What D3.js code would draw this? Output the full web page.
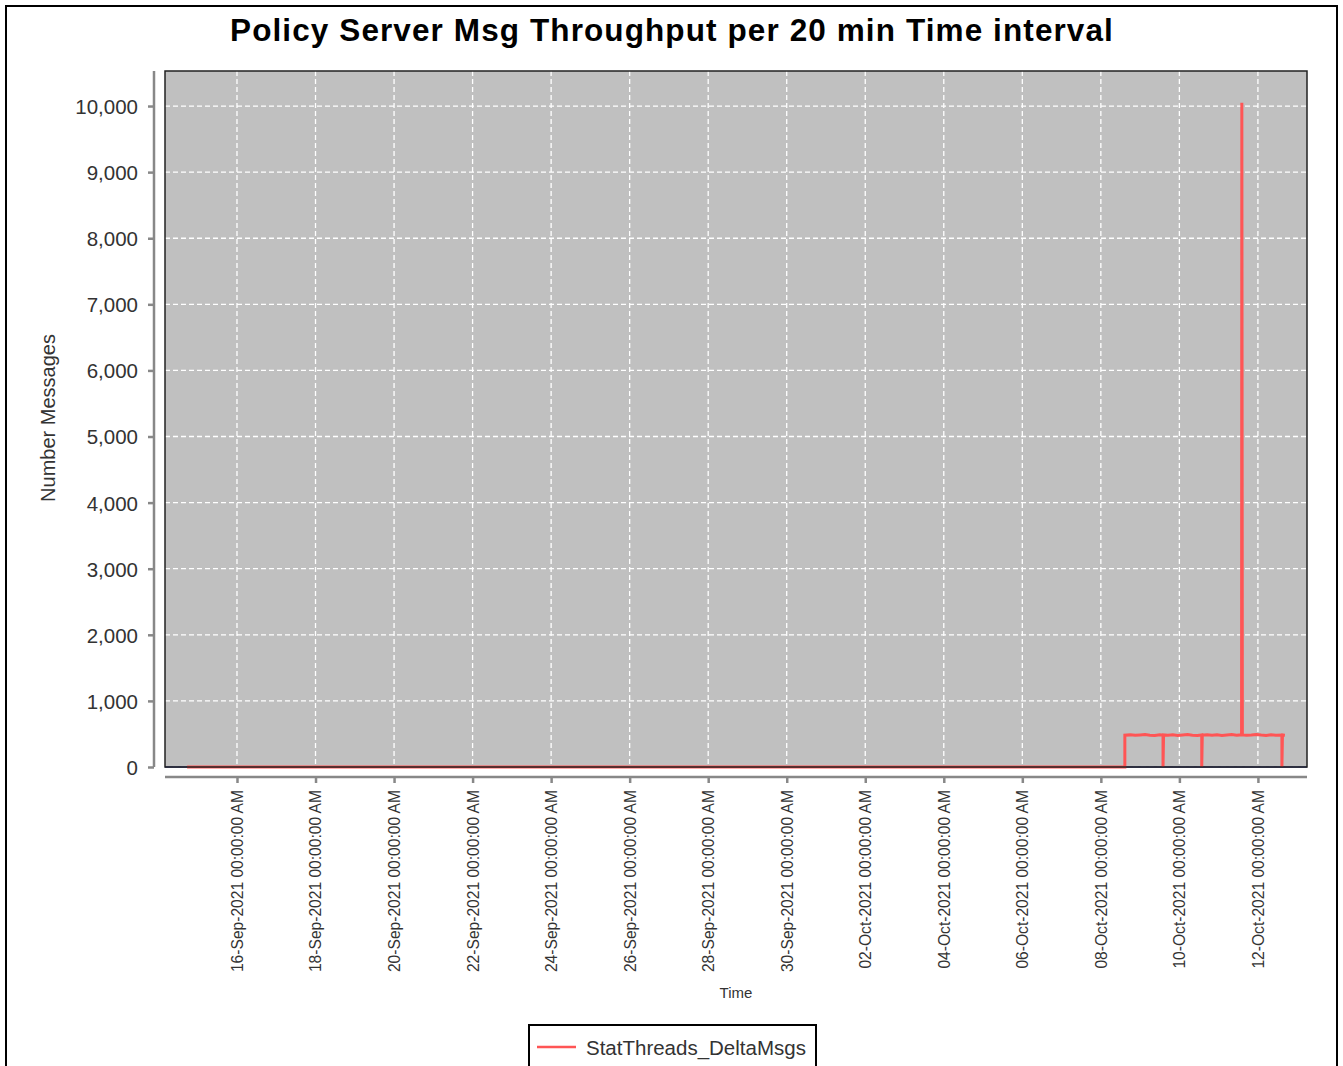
<!DOCTYPE html>
<html><head><meta charset="utf-8">
<script src="https://cdn.jsdelivr.net/npm/d3@7"></script>
<style>body{margin:0;background:#fff}svg{display:block;font-family:"Liberation Sans",Arial,sans-serif}</style>
</head><body>
<script>
// ---- data ----
const seriesName = "StatThreads_DeltaMsgs";
const xTickLabels = ["16-Sep-2021","18-Sep-2021","20-Sep-2021","22-Sep-2021","24-Sep-2021","26-Sep-2021","28-Sep-2021","30-Sep-2021","02-Oct-2021","04-Oct-2021","06-Oct-2021","08-Oct-2021","10-Oct-2021","12-Oct-2021"];
const yTicks = [0,1000,2000,3000,4000,5000,6000,7000,8000,9000,10000];
const times = [
 "2021-09-14T17:30","2021-10-08T14:40","2021-10-08T14:40",
 "2021-10-08T18:00","2021-10-08T21:00","2021-10-09T00:00","2021-10-09T03:00","2021-10-09T06:00","2021-10-09T09:00","2021-10-09T12:00","2021-10-09T14:00",
 "2021-10-09T14:00","2021-10-09T14:20",
 "2021-10-09T17:00","2021-10-09T20:00","2021-10-09T23:00","2021-10-10T02:00","2021-10-10T05:00","2021-10-10T08:00","2021-10-10T11:00","2021-10-10T13:40",
 "2021-10-10T13:40","2021-10-10T14:00",
 "2021-10-10T17:00","2021-10-10T20:00","2021-10-10T23:00","2021-10-11T02:00","2021-10-11T05:00","2021-10-11T08:00","2021-10-11T11:00","2021-10-11T14:00",
 "2021-10-11T14:10","2021-10-11T14:30",
 "2021-10-11T17:00","2021-10-11T20:00","2021-10-11T23:00","2021-10-12T02:00","2021-10-12T05:00","2021-10-12T08:00","2021-10-12T11:00","2021-10-12T14:40",
 "2021-10-12T14:40","2021-10-12T15:00","2021-10-12T16:30"
];
const deltaMsgs = [
 0,0,482,
 486,479,484,490,481,477,488,483,
 0,485,
 480,487,478,484,491,482,476,485,
 0,483,
 489,481,486,478,484,490,482,487,
 10050,486,
 479,484,491,483,477,486,482,485,
 0,484,481
];
const baselineTimes = ["2021-09-14T04:00","2021-10-13T06:00"];
const baselineValues = [0,0];

// ---- chart ----
const W=1343,H=1066;
const svg=d3.select("body").append("svg").attr("width",W).attr("height",H);
const parse=d3.timeParse("%Y-%m-%dT%H:%M");
const pl=165,pr=1307,pt=71,pb=767;

svg.append("rect").attr("x",6).attr("y",6).attr("width",1331).attr("height",1070)
  .attr("fill","#fff").attr("stroke","#000").attr("stroke-width",2);

svg.append("text").attr("x",672).attr("y",41).attr("text-anchor","middle")
  .attr("font-size",31.5).attr("font-weight","bold").attr("fill","#000")
  .attr("letter-spacing","1.1").text("Policy Server Msg Throughput per 20 min Time interval");

const x=d3.scaleTime().domain([parse("2021-09-14T04:00"),parse("2021-10-13T06:00")]).range([pl,pr]);
const y=d3.scaleLinear().domain([0,10530]).range([pb,pt]);

svg.append("rect").attr("x",pl).attr("y",pt).attr("width",pr-pl).attr("height",pb-pt).attr("fill","#c0c0c0");

const xTickDates=xTickLabels.map(s=>d3.timeParse("%d-%b-%Y")(s));

// grid
const g=svg.append("g");
g.selectAll(".gy").data(yTicks).join("line").attr("x1",pl).attr("x2",pr)
  .attr("y1",d=>y(d)).attr("y2",d=>y(d)).attr("stroke","#fff").attr("stroke-width",1.3).attr("stroke-dasharray","5,3");
g.selectAll(".gx").data(xTickDates).join("line").attr("y1",pt).attr("y2",pb)
  .attr("x1",d=>x(d)).attr("x2",d=>x(d)).attr("stroke","#fff").attr("stroke-width",1.3).attr("stroke-dasharray","5,3");

// lines
const base=baselineTimes.map((t,i)=>[parse(t),baselineValues[i]]);
const data=times.map((t,i)=>[parse(t),deltaMsgs[i]]);
const line=d3.line().x(d=>x(d[0])).y(d=>y(d[1]));
svg.append("path").attr("d",line(base)).attr("fill","none").attr("stroke","#1f2a80").attr("stroke-width",1.5);
svg.append("path").attr("d",line(data)).attr("fill","none").attr("stroke","#ff5555").attr("stroke-width",3);

svg.append("rect").attr("x",pl).attr("y",pt).attr("width",pr-pl).attr("height",pb-pt).attr("fill","none").attr("stroke","#222").attr("stroke-width",1.5);

// y axis
const ya=svg.append("g").attr("transform","translate(154,0)")
  .call(d3.axisLeft(y).tickValues(yTicks).tickFormat(d3.format(",")).tickSizeOuter(0).tickSize(6).tickPadding(10));
ya.select(".domain").remove();
ya.append("line").attr("x1",0).attr("x2",0).attr("y1",pt).attr("y2",pb).attr("stroke","#888").attr("stroke-width",2.5);
ya.selectAll(".tick line").attr("stroke","#888").attr("stroke-width",2.5);
ya.selectAll(".tick text").attr("font-size",20.5).attr("fill","#333").attr("font-family","Liberation Sans, Arial, sans-serif").attr("dy","0.36em");

svg.append("text").attr("transform","translate(55,418) rotate(-90)").attr("text-anchor","middle")
  .attr("font-size",20).attr("fill","#333").text("Number Messages");

// x axis
const xa=svg.append("g").attr("transform","translate(0,777)")
  .call(d3.axisBottom(x).tickValues(xTickDates).tickFormat((d,i)=>xTickLabels[i]+" 00:00:00 AM").tickSizeOuter(0).tickSize(6));
xa.select(".domain").remove();
xa.append("line").attr("x1",pl).attr("x2",pr).attr("y1",0).attr("y2",0).attr("stroke","#888").attr("stroke-width",2.5);
xa.selectAll(".tick line").attr("stroke","#888").attr("stroke-width",2.5);
xa.selectAll(".tick text").attr("font-size",15.6).attr("fill","#333").attr("font-family","Liberation Sans, Arial, sans-serif")
  .attr("transform","rotate(-90)").attr("text-anchor","end").attr("x",-13).attr("y",0).attr("dy","0.35em");

svg.append("text").attr("x",736).attr("y",998).attr("text-anchor","middle").attr("font-size",15).attr("fill","#333").text("Time");

// legend
const lg=svg.append("g");
lg.append("rect").attr("x",529).attr("y",1025).attr("width",287).attr("height",60).attr("fill","#fff").attr("stroke","#000").attr("stroke-width",2);
lg.append("line").attr("x1",537).attr("x2",576).attr("y1",1047).attr("y2",1047).attr("stroke","#ff5555").attr("stroke-width",2.5);
lg.append("text").attr("x",586).attr("y",1055).attr("font-size",20.5).attr("fill","#333").text(seriesName);
</script>
</body></html>
